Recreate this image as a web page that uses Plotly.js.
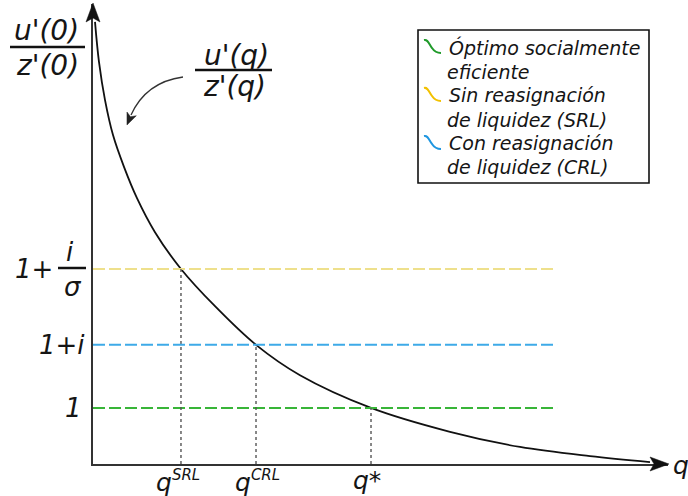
<!DOCTYPE html>
<html><head><meta charset="utf-8">
<script src="https://cdn.plot.ly/plotly-3.0.1.min.js"></script>
<style>html,body{margin:0;padding:0;background:#fff}#chart{width:688px;height:496px}</style>
</head><body><div id="chart"></div>
<script>
// ---- data (diagram units) ----
const qCurve  = [0.035, 0.104, 0.209, 0.348, 0.539, 0.765, 1.078, 1.530, 2.122, 2.835, 3.600, 4.835, 6.209, 7.426, 8.643, 9.687];
const uzCurve = [9.61, 8.74, 7.91, 7.15, 6.46, 5.78, 5.04, 4.24, 3.43, 2.59, 1.93, 1.22, 0.70, 0.37, 0.17, 0.04];
const seriesNames = ["Óptimo socialmente eficiente", "Sin reasignación de liquidez (SRL)", "Con reasignación de liquidez (CRL)"];
const legendLines = [["Óptimo socialmente", "eficiente"], ["Sin reasignación", "de liquidez (SRL)"], ["Con reasignación", "de liquidez (CRL)"]];
const qEquilibrium = [4.835, 1.530, 2.835];
const levels = [1.22, 4.24, 2.59];
const lineEnd = 8.07;
const xTickBase = ["q", "q", "q"];
const xTickSup = ["*", "SRL", "CRL"];
const lineColors = ["#38b538", "#eee08c", "#3eaae8"];
const legendColors = ["#1f9a2a", "#f2c100", "#1e96e0"];

// ---- geometry helpers ----
const W = 688, H = 496, ML = 93, MR = 20, MT = 4, MB = 32;
const PW = W - ML - MR, PH = H - MT - MB;
const PX = x => (x - ML) / PW;
const PY = y => (H - MB - y) / PH;
const P = (x, y) => PX(x).toFixed(4) + "," + PY(y).toFixed(4);
const FAM = "DejaVu Sans";
const TXT = "#151515";
const font = (s) => ({family: FAM, size: s, color: TXT, style: "italic"});

const traces = [{
  x: qCurve, y: uzCurve, type: "scatter", mode: "lines", cliponaxis: false,
  line: {color: "#111", width: 1.8, shape: "spline", smoothing: 1},
  showlegend: false, hoverinfo: "skip", name: "u'(q)/z'(q)"
}];
seriesNames.forEach((n, i) => {
  traces.push({x: [0, lineEnd], y: [levels[i], levels[i]], type: "scatter", mode: "lines",
    line: {color: lineColors[i], width: 2, dash: "12px,4px"}, name: n, showlegend: false, cliponaxis: false});
  traces.push({x: [qEquilibrium[i], qEquilibrium[i]], y: [0, levels[i]], type: "scatter", mode: "lines",
    line: {color: "#555", width: 1.4, dash: "dot"}, showlegend: false, hoverinfo: "skip", cliponaxis: false});
});

const ann = [];
const shapes = [];
const fill = (pts, color) => ({type: "path", xref: "paper", yref: "paper",
  path: "M" + pts.map(p => P(p[0], p[1])).join(" L") + " Z", fillcolor: color, line: {color: color, width: 0.5}});
// axis arrowheads
shapes.push(fill([[93, 3], [86, 22], [93, 18], [100, 22]], "#111"));
shapes.push(fill([[669, 464], [650, 457], [654, 464], [650, 471]], "#111"));
ann.push({x: 10, y: 0, xref: "x", yref: "y", xanchor: "left", yanchor: "middle", xshift: 3, yshift: -1, showarrow: false, text: "q", font: font(25)});
// x labels
const xShift = [-4, -3, 1];
qEquilibrium.forEach((q, i) => {
  const sup = xTickSup[i] === "*" ? "*" : "<sup><span style=\"font-size:15px\">" + xTickSup[i] + "</span></sup>";
  ann.push({x: q, y: 0, xref: "x", yref: "y", xanchor: "center", yanchor: "top", xshift: xShift[i], yshift: 0,
    showarrow: false, text: xTickBase[i] + sup, font: font(25)});
});
// y labels
ann.push({x: 0, y: levels[0], xref: "paper", yref: "y", xanchor: "right", yanchor: "middle", xshift: -9, showarrow: false, text: "1", font: font(26)});
ann.push({x: 0, y: levels[2], xref: "paper", yref: "y", xanchor: "right", yanchor: "middle", xshift: -6, showarrow: false, text: "1+i", font: font(26)});
ann.push({x: 0, y: levels[1], xref: "paper", yref: "y", xanchor: "right", yanchor: "middle", xshift: -38, showarrow: false, text: "1+", font: font(26)});
ann.push({x: 0, y: levels[1], xref: "paper", yref: "y", xanchor: "center", yanchor: "middle", xshift: -23, yshift: 17, showarrow: false, text: "i", font: font(26)});
ann.push({x: 0, y: levels[1], xref: "paper", yref: "y", xanchor: "center", yanchor: "middle", xshift: -20, yshift: -18, showarrow: false, text: "σ", font: font(26)});
shapes.push({type: "line", xref: "paper", yref: "paper", x0: PX(58), x1: PX(86), y0: PY(268), y1: PY(268), line: {color: "#111", width: 2.5}});
// u'(0)/z'(0)
ann.push({x: PX(46), y: PY(31), xref: "paper", yref: "paper", xanchor: "center", yanchor: "middle", showarrow: false, text: "u'(0)", font: font(28)});
ann.push({x: PX(47), y: PY(65), xref: "paper", yref: "paper", xanchor: "center", yanchor: "middle", showarrow: false, text: "z'(0)", font: font(28)});
shapes.push({type: "line", xref: "paper", yref: "paper", x0: PX(10), x1: PX(85), y0: PY(47), y1: PY(47), line: {color: "#111", width: 2.5}});
// u'(q)/z'(q)
ann.push({x: PX(236), y: PY(55), xref: "paper", yref: "paper", xanchor: "center", yanchor: "middle", showarrow: false, text: "u'(q)", font: font(28)});
ann.push({x: PX(234), y: PY(87), xref: "paper", yref: "paper", xanchor: "center", yanchor: "middle", showarrow: false, text: "z'(q)", font: font(28)});
shapes.push({type: "line", xref: "paper", yref: "paper", x0: PX(195), x1: PX(272), y0: PY(70), y1: PY(70), line: {color: "#111", width: 2.5}});
// curved pointer arrow
shapes.push({type: "path", xref: "paper", yref: "paper", path: "M" + P(183, 77) + " Q" + P(146, 82) + " " + P(131, 115), line: {color: "#333", width: 1.3}});
shapes.push(fill([[127, 125], [136.3, 115.8], [130.5, 116.7], [127.0, 112.0]], "#222"));

// legend box
shapes.push({type: "rect", xref: "paper", yref: "paper", x0: PX(418), x1: PX(649), y0: PY(183), y1: PY(30), line: {color: "#111", width: 1.6}, fillcolor: "rgba(0,0,0,0)"});
const rowY = [47, 72, 95, 120, 143, 167];
legendLines.forEach((ls, i) => {
  ls.forEach((t, j) => {
    ann.push({x: PX(j === 0 ? 447 : 445), y: PY(rowY[2 * i + j]), xref: "paper", yref: "paper", xanchor: "left", yanchor: "middle", showarrow: false, text: t, font: font(19)});
  });
  const cy = rowY[2 * i] - 7, cx = 424;
  const path = "M" + P(cx, cy) + " C" + P(cx + 4, cy - 1) + " " + P(cx + 5, cy + 4) + " " + P(cx + 8, cy + 8) +
               " C" + P(cx + 10, cy + 11) + " " + P(cx + 13, cy + 13) + " " + P(cx + 17, cy + 13);
  shapes.push({type: "path", xref: "paper", yref: "paper", path: path, line: {color: legendColors[i], width: 2}});
});

const layout = {
  width: W, height: H, margin: {l: ML, r: MR, t: MT, b: MB},
  paper_bgcolor: "#fff", plot_bgcolor: "#fff", showlegend: false,
  xaxis: {range: [0, 10], showgrid: false, zeroline: false, showline: true, linecolor: "#333", linewidth: 2,
    ticks: "", showticklabels: false, fixedrange: true},
  yaxis: {range: [0, 10], showgrid: false, zeroline: false, showline: true, linecolor: "#333", linewidth: 2,
    ticks: "", showticklabels: false, fixedrange: true},
  annotations: ann, shapes: shapes
};
Plotly.newPlot("chart", traces, layout, {displayModeBar: false, staticPlot: true});
</script></body></html>
